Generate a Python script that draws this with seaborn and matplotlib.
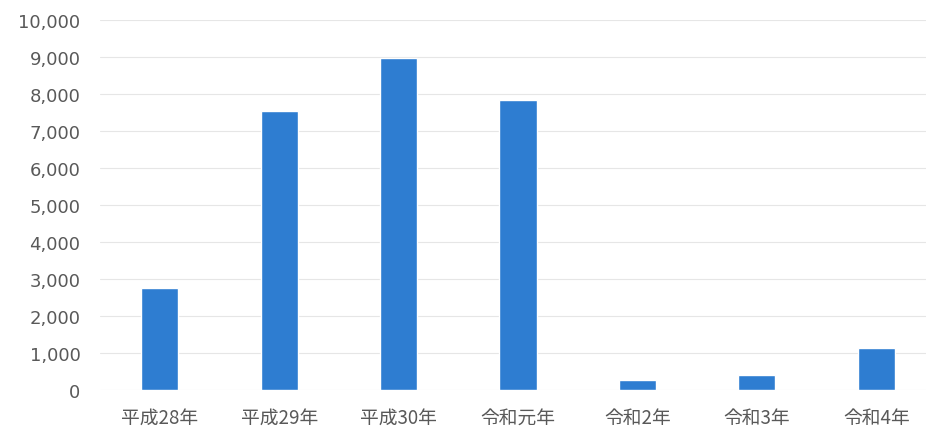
import pandas as pd
import matplotlib.pyplot as plt
import seaborn as sns
from matplotlib.ticker import FuncFormatter

# values
years = ['平成28年', '平成29年', '平成30年', '令和元年', '令和2年', '令和3年', '令和4年']
counts = [2750, 7550, 8980, 7830, 270, 400, 1130]
y_ticks = [0, 1000, 2000, 3000, 4000, 5000, 6000, 7000, 8000, 9000, 10000]

data = pd.DataFrame({'year': years, 'count': counts})

sns.set_style('white')
plt.rcParams['font.family'] = ['Noto Sans CJK JP', 'DejaVu Sans']

fig = plt.figure(figsize=(9.26, 4.35), dpi=100)
# axes run slightly past the right edge, as in the reference
ax = fig.add_axes([100 / 926, 44 / 435, 836 / 926, 370 / 435])

sns.barplot(x='year', y='count', data=data, color='#2E7DD1', width=0.31,
            saturation=1, ax=ax)

ax.set_ylim(0, 10000)
ax.set_yticks(y_ticks)
ax.yaxis.set_major_formatter(FuncFormatter(lambda v, p: f'{int(v):,}'))
ax.set_xlim(-0.5, len(years) - 0.5)
ax.set_xlabel('')
ax.set_ylabel('')

ax.grid(axis='y', color='#E6E6E6', linewidth=0.8)
ax.set_axisbelow(True)
for s in ax.spines.values():
    s.set_visible(False)

ax.tick_params(axis='both', length=0, colors='#595959')
ax.tick_params(axis='y', pad=14)
ax.tick_params(axis='x', pad=12)
for lab in ax.get_yticklabels():
    lab.set_fontfamily('DejaVu Sans')
    lab.set_fontsize(13)
for lab in ax.get_xticklabels():
    lab.set_fontsize(13.5)

plt.savefig('out.png', dpi=100)
